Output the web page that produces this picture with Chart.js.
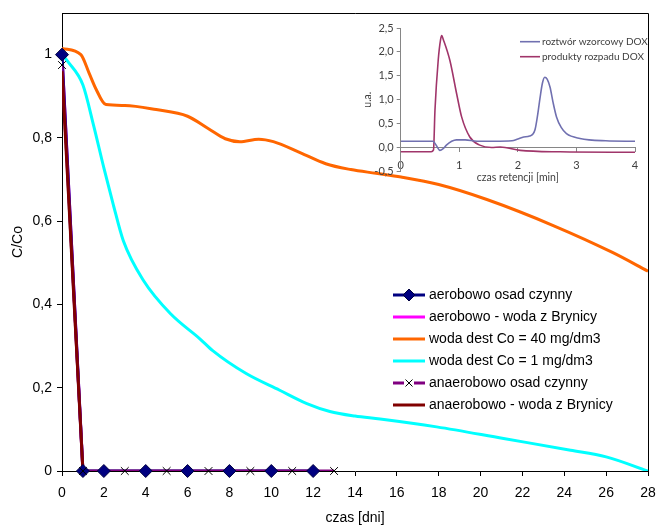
<!DOCTYPE html>
<html><head><meta charset="utf-8">
<script src="https://cdn.jsdelivr.net/npm/chart.js@4.4.1/dist/chart.umd.min.js"></script>
<style>
html,body{margin:0;padding:0;background:#fff;}
#wrap{position:relative;width:657px;height:525px;background:#fff;}
#main{position:absolute;left:0;top:0;}
#inset{position:absolute;left:355px;top:10px;pointer-events:none;}
</style></head><body>
<div id="wrap"><canvas id="main" width="657" height="525"></canvas><canvas id="inset" width="295" height="180"></canvas></div>
<script>
// ---- main chart data ----
const xTicks = [0,2,4,6,8,10,12,14,16,18,20,22,24,26,28];
const yTicks = [0,0.2,0.4,0.6,0.8,1];
const seriesLabels = ['aerobowo osad czynny','aerobowo - woda z Brynicy','woda dest Co = 40 mg/dm3','woda dest Co = 1 mg/dm3','anaerobowo osad czynny','anaerobowo - woda z Brynicy'];

const aeroOsadX = [0,1,2,4,6,8,10,12];
const aeroOsadY = [1,0,0,0,0,0,0,0];
const aeroBrynicaX = [0,1];
const aeroBrynicaY = [1,0];
const dest40X = [0,0.9,1.3,1.6,2.1,3,4.5,6,7,7.8,8.5,9.4,10.1,11.4,12.6,13.8,15,16.2,18,20.3,23.5,26.3,28];
const dest40Y = [1.015,1.0,0.955,0.92,0.88,0.878,0.868,0.852,0.822,0.798,0.791,0.797,0.791,0.764,0.738,0.724,0.715,0.706,0.688,0.652,0.589,0.525,0.48];
const dest1X = [0,0.3,1.0,1.5,2.0,2.45,2.93,3.9,5.2,6.6,7.2,8.8,10.4,11.7,12.8,14,15.2,17.9,21.1,24.3,26,28];
const dest1Y = [1.0,0.982,0.927,0.832,0.728,0.640,0.553,0.457,0.377,0.317,0.289,0.234,0.194,0.162,0.143,0.132,0.125,0.106,0.078,0.050,0.034,0.0];
const anaeroOsadX = [0,1,3,5,7,9,11,13];
const anaeroOsadY = [0.975,0,0,0,0,0,0,0];
const anaeroBrynicaX = [0,1];
const anaeroBrynicaY = [0.96,0];

// ---- inset chromatogram data ----
const insetXTicks = [0,1,2,3,4];
const insetYTicks = [-0.5,0,0.5,1,1.5,2,2.5];
const insetLabels = ['roztwór wzorcowy DOX','produkty rozpadu DOX'];
const wzorT = [0,0.3,0.55,0.6,0.67,0.72,0.78,0.87,0.95,1.1,1.3,1.6,1.9,2.0,2.1,2.2,2.29,2.34,2.38,2.42,2.46,2.5,2.55,2.6,2.66,2.74,2.83,3.06,3.5,4];
const wzorV = [0.13,0.13,0.13,0.06,-0.06,-0.03,0.05,0.13,0.16,0.16,0.13,0.13,0.14,0.18,0.22,0.24,0.36,0.7,1.05,1.35,1.47,1.43,1.26,0.95,0.64,0.42,0.29,0.19,0.14,0.13];
const prodT = [0,0.3,0.52,0.56,0.585,0.64,0.68,0.70,0.73,0.84,0.955,1.04,1.18,1.35,1.55,1.7,2.04,2.72,4];
const prodV = [-0.09,-0.09,-0.09,-0.05,0.78,1.82,2.25,2.34,2.25,1.82,1.125,0.64,0.22,0.05,0.0,0.01,-0.06,-0.09,-0.1];

const zip = (xs, ys) => xs.map((x, i) => ({x: x, y: ys[i]}));
const FONT = "'Liberation Sans', Arial, sans-serif";
const IFONT = "Lato, 'Open Sans', sans-serif";

const COL = {navy:'#000080', magenta:'#FF00FF', orange:'#FF6600', cyan:'#00FFFF', purple:'#800080', darkred:'#800000'};

const noPad = s => { s.paddingLeft = 0; s.paddingRight = 0; s.paddingTop = 0; s.paddingBottom = 0; };

const framePlugin = {
  id:'frame',
  afterDraw(chart){
    const {ctx, chartArea:a} = chart;
    ctx.save();
    ctx.strokeStyle = '#000'; ctx.lineWidth = 1;
    ctx.beginPath();
    ctx.moveTo(a.left, Math.round(a.top)+0.5);
    ctx.lineTo(Math.round(a.right)+0.5, Math.round(a.top)+0.5);
    ctx.lineTo(Math.round(a.right)+0.5, a.bottom);
    ctx.stroke();
    ctx.restore();
  }
};

const legendPlugin = {
  id:'customLegend',
  afterDraw(chart){
    const ctx = chart.ctx;
    const x0 = 393, x1 = 425, tx = 429, y0 = 295, dy = 22;
    const cols = [COL.navy, COL.magenta, COL.orange, COL.cyan, COL.purple, COL.darkred];
    ctx.save();
    ctx.font = '14px ' + FONT;
    ctx.textBaseline = 'middle';
    ctx.fillStyle = '#000';
    seriesLabels.forEach((lab, i) => {
      const y = y0 + i*dy;
      ctx.strokeStyle = cols[i]; ctx.lineWidth = 3;
      ctx.beginPath();
      if (i === 4) {
        ctx.moveTo(x0, y); ctx.lineTo(x0+11, y);
        ctx.moveTo(x1-11, y); ctx.lineTo(x1, y);
      } else {
        ctx.moveTo(x0, y); ctx.lineTo(x1, y);
      }
      ctx.stroke();
      const cx = (x0+x1)/2;
      if (i === 0) {
        ctx.fillStyle = COL.navy; ctx.strokeStyle = '#000040'; ctx.lineWidth = 1;
        ctx.beginPath();
        ctx.moveTo(cx, y-6); ctx.lineTo(cx+6, y); ctx.lineTo(cx, y+6); ctx.lineTo(cx-6, y); ctx.closePath();
        ctx.fill(); ctx.stroke();
      }
      if (i === 4) {
        ctx.strokeStyle = '#000'; ctx.lineWidth = 1;
        ctx.beginPath();
        ctx.moveTo(cx-3.5, y-3.5); ctx.lineTo(cx+3.5, y+3.5);
        ctx.moveTo(cx+3.5, y-3.5); ctx.lineTo(cx-3.5, y+3.5);
        ctx.stroke();
      }
      ctx.fillStyle = '#000';
      ctx.fillText(lab, tx, y);
    });
    ctx.restore();
  }
};

const fmtMain = v => {
  if (Math.abs(v) < 1e-9) return '0';
  if (Math.abs(v-1) < 1e-9) return '1';
  return v.toFixed(1).replace('.', ',');
};

new Chart(document.getElementById('main'), {
  type:'line',
  data:{datasets:[
    {label:seriesLabels[1], data:zip(aeroBrynicaX, aeroBrynicaY), borderColor:COL.magenta, borderWidth:3, pointRadius:0, order:9},
    {label:seriesLabels[0], data:zip(aeroOsadX, aeroOsadY), borderColor:COL.navy, borderWidth:3, pointRadius:0, order:8},
    {label:seriesLabels[2], data:zip(dest40X, dest40Y), borderColor:COL.orange, borderWidth:3, pointRadius:0, cubicInterpolationMode:'monotone', order:7},
    {label:seriesLabels[3], data:zip(dest1X, dest1Y), borderColor:COL.cyan, borderWidth:3, pointRadius:0, cubicInterpolationMode:'monotone', order:6},
    {label:seriesLabels[4], data:zip(anaeroOsadX, anaeroOsadY), borderColor:COL.purple, borderWidth:3, pointRadius:0, order:5},
    {label:seriesLabels[5], data:zip(anaeroBrynicaX, anaeroBrynicaY), borderColor:COL.darkred, borderWidth:3, pointRadius:0, order:4},
    {label:seriesLabels[0]+' (markers)', data:zip(aeroOsadX, aeroOsadY), showLine:false, pointStyle:'rectRot', pointRadius:6.5, pointBackgroundColor:COL.navy, pointBorderColor:'#000040', pointBorderWidth:1, order:3, clip:false},
    {label:seriesLabels[4]+' (markers)', data:zip(anaeroOsadX, anaeroOsadY), showLine:false, pointStyle:'crossRot', pointRadius:5.5, pointBorderColor:'#000', pointBorderWidth:1, order:2, clip:false}
  ]},
  options:{
    responsive:false, animation:false, devicePixelRatio:1,
    layout:{padding:{top:13, right:9, left:0, bottom:0}},
    plugins:{legend:{display:false}, tooltip:{enabled:false}, title:{display:false}},
    scales:{
      x:{type:'linear', position:'bottom', min:0, max:28,
        afterFit:s=>{ s.height = 54; noPad(s); },
        afterBuildTicks:s=>{ s.ticks = xTicks.map(v=>({value:v})); },
        ticks:{color:'#000', font:{family:FONT, size:14}, padding:9, maxRotation:0, autoSkip:false, callback:v=>String(v)},
        grid:{drawOnChartArea:false, drawTicks:true, tickLength:5, color:'#000'},
        border:{display:true, color:'#000', width:1},
        title:{display:true, text:'czas [dni]', color:'#000', font:{family:FONT, size:14, lineHeight:1}, padding:{top:0, bottom:0}}
      },
      y:{type:'linear', min:0, max:1.1,
        afterFit:s=>{ s.width = 62; noPad(s); },
        afterBuildTicks:s=>{ s.ticks = yTicks.map(v=>({value:v})); },
        ticks:{color:'#000', font:{family:FONT, size:14}, padding:5, callback:v=>fmtMain(v)},
        grid:{drawOnChartArea:false, drawTicks:true, tickLength:5, color:'#000'},
        border:{display:true, color:'#000', width:1},
        title:{display:true, text:'C/Co', color:'#000', font:{family:FONT, size:14, lineHeight:1.2}, padding:{top:10, bottom:0}}
      }
    }
  },
  plugins:[framePlugin, legendPlugin]
});

// ---- inset ----
const ICOL = ['#7070B0', '#A0356A'];
const insetLegend = {
  id:'insetLegend',
  afterDraw(chart){
    const ctx = chart.ctx;
    ctx.save();
    ctx.font = '10px ' + IFONT;
    ctx.textBaseline = 'middle';
    insetLabels.forEach((lab, i) => {
      const y = 31.7 + i*15;
      ctx.strokeStyle = ICOL[i]; ctx.lineWidth = 1.6;
      ctx.beginPath(); ctx.moveTo(165, y); ctx.lineTo(185, y); ctx.stroke();
      ctx.fillStyle = '#404040';
      ctx.fillText(lab, 187, y);
    });
    ctx.restore();
  }
};

new Chart(document.getElementById('inset'), {
  type:'line',
  data:{datasets:[
    {label:insetLabels[0], data:zip(wzorT, wzorV), borderColor:ICOL[0], borderWidth:1.6, pointRadius:0, cubicInterpolationMode:'monotone'},
    {label:insetLabels[1], data:zip(prodT, prodV), borderColor:ICOL[1], borderWidth:1.6, pointRadius:0, cubicInterpolationMode:'monotone'}
  ]},
  options:{
    responsive:false, animation:false, devicePixelRatio:1,
    layout:{padding:{top:18, right:15, left:0, bottom:0}},
    plugins:{legend:{display:false}, tooltip:{enabled:false},
      title:{display:true, position:'bottom', fullSize:false, text:'czas retencji [min]', color:'#404040',
        font:{family:IFONT, size:10.5, weight:'normal', lineHeight:1.2}, padding:{top:0, bottom:6}}
    },
    scales:{
      x:{type:'linear', min:0, max:4, position:{y:0},
        afterFit:s=>{ noPad(s); },
        afterBuildTicks:s=>{ s.ticks = insetXTicks.map(v=>({value:v})); },
        ticks:{color:'#404040', font:{family:IFONT, size:11}, padding:7, maxRotation:0, autoSkip:false, callback:v=>String(v)},
        grid:{drawOnChartArea:false, drawTicks:true, tickLength:4, color:'#868686'},
        border:{display:true, color:'#868686', width:1}
      },
      y:{type:'linear', min:-0.5, max:2.5,
        afterFit:s=>{ s.width = 45.7; noPad(s); },
        afterBuildTicks:s=>{ s.ticks = insetYTicks.map(v=>({value:v})); },
        ticks:{color:'#404040', font:{family:IFONT, size:11}, padding:3, callback:v=>v.toFixed(1).replace('.', ',')},
        grid:{drawOnChartArea:false, drawTicks:true, tickLength:4, color:'#868686'},
        border:{display:true, color:'#868686', width:1},
        title:{display:true, text:'u.a.', color:'#404040', font:{family:IFONT, size:10.5, lineHeight:1.2}, padding:{top:6, bottom:0}}
      }
    }
  },
  plugins:[insetLegend]
});
</script>
</body></html>
